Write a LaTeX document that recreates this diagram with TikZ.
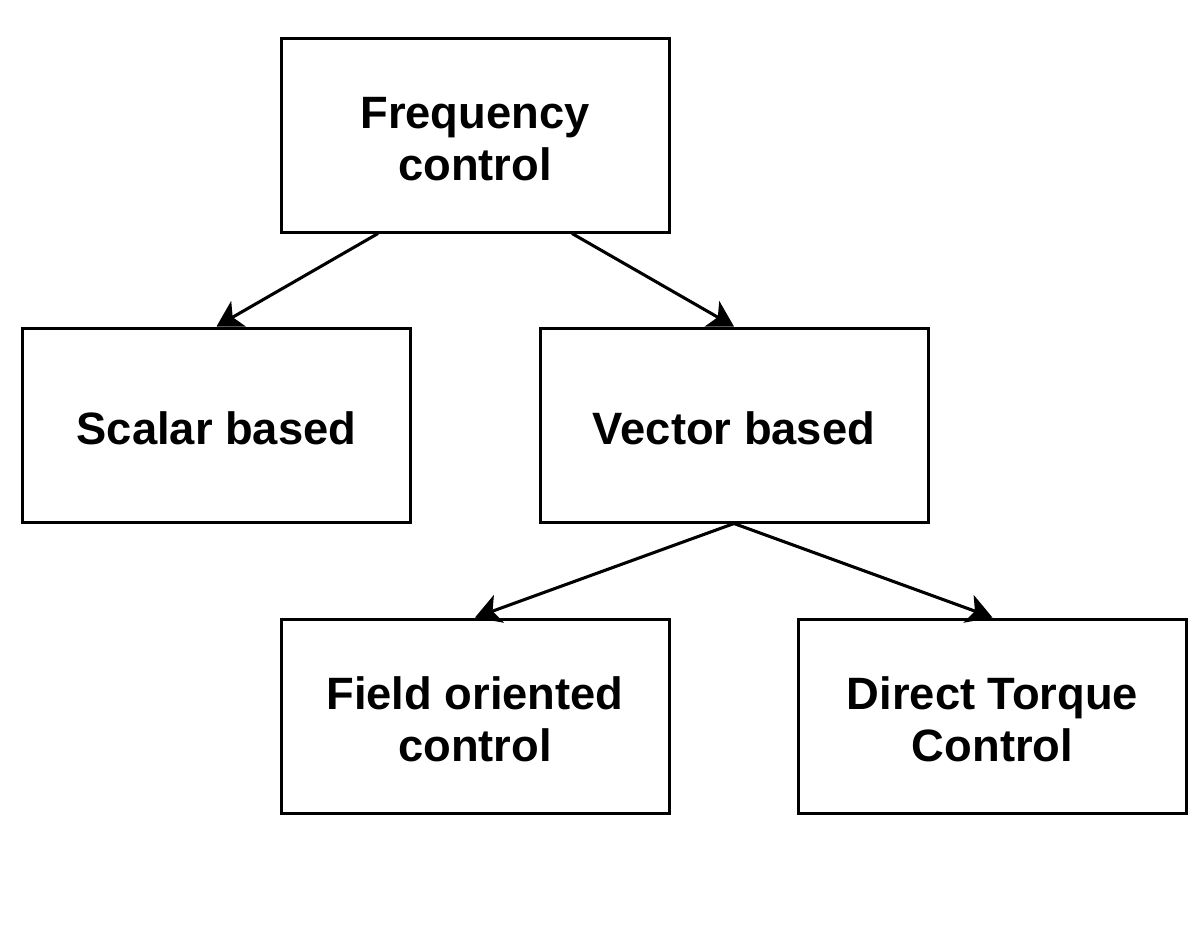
\documentclass[tikz,border=0pt]{standalone}
\usepackage{fontspec}
\setmainfont{Liberation Sans}
\usetikzlibrary{arrows.meta}
\newcommand{\boxlbl}[1]{\raisebox{-7pt}[\height][\depth]{\begin{tabular}{@{}c@{}}#1\end{tabular}}}
\begin{document}
\begin{tikzpicture}[x=0.75pt,y=-0.75pt,
  box/.style={draw=black, line width=2.25pt, fill=white, rectangle,
    minimum width=291pt, minimum height=145.5pt, align=center,
    font=\fontsize{34}{39}\selectfont\bfseries, inner sep=0pt},
  conn/.style={draw=black, line width=2.3pt, -{Stealth[length=19pt,width=22pt,inset=5pt]}}]
\useasboundingbox (0,0) rectangle (1204,943);
\node[box] (freq) at (475,135) {\boxlbl{Frequency\\control}};
\node[box] (scalar) at (216.5,425) {\boxlbl{Scalar based}};
\node[box] (vector) at (734,425) {\boxlbl{Vector based}};
\node[box] (field) at (475,716) {\boxlbl{Field oriented\\control}};
\node[box] (dtc) at (992.5,716) {\boxlbl{Direct Torque\\Control}};
\draw[conn] ([xshift=-72.75pt]freq.south) -- (scalar.north);
\draw[conn] ([xshift=72.75pt]freq.south) -- (vector.north);
\draw[conn] (vector.south) -- (field.north);
\draw[conn] (vector.south) -- (dtc.north);
\end{tikzpicture}
\end{document}
